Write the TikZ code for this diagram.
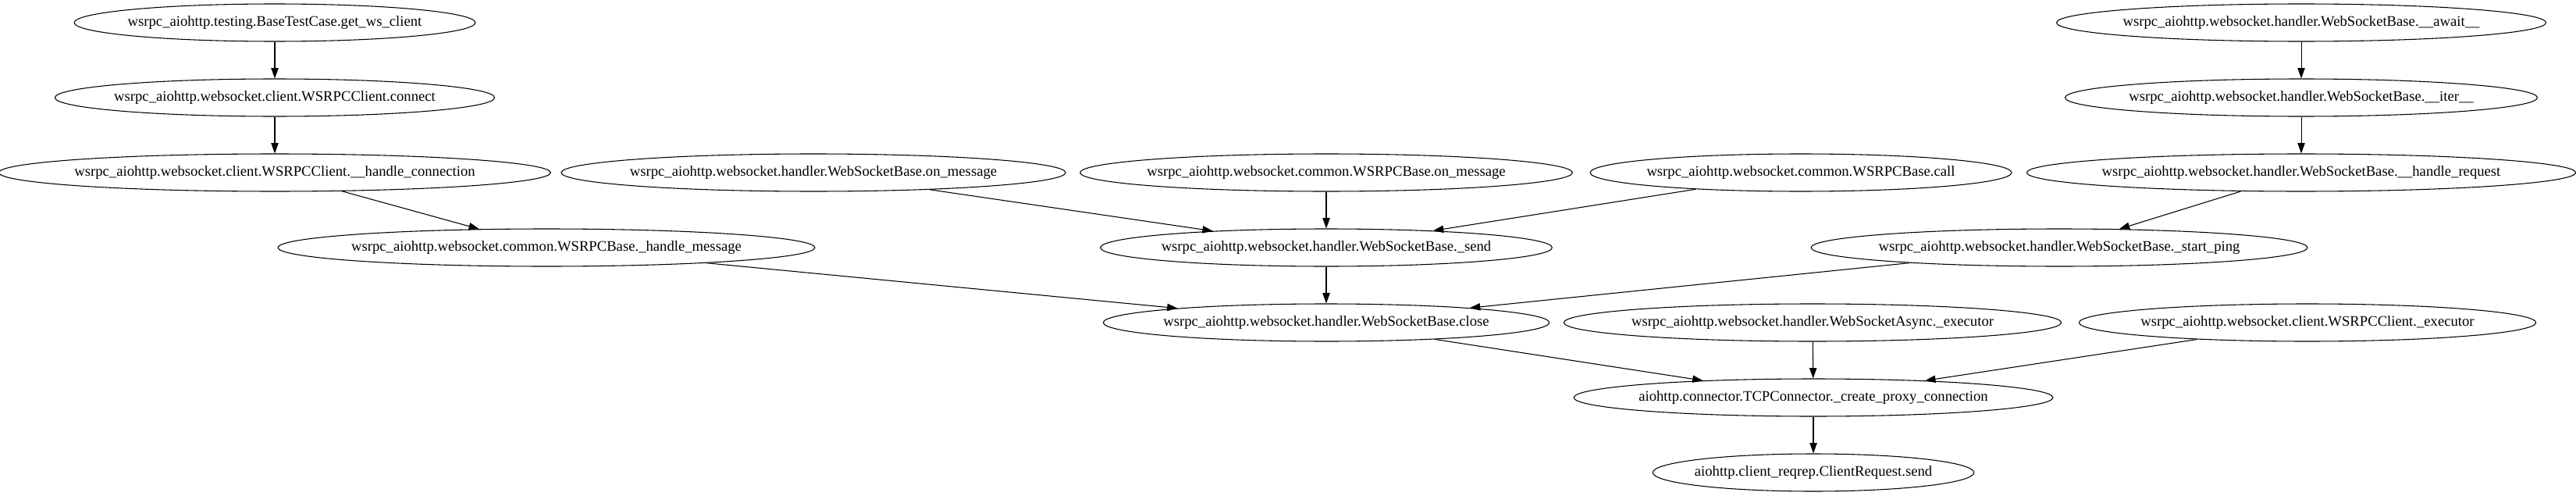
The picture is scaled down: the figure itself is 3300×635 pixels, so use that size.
\documentclass[tikz,border=0pt]{standalone}
\usepackage{fontspec}
\setmainfont{Liberation Serif}
\usetikzlibrary{arrows.meta, shapes.geometric}

\begin{document}
\begin{tikzpicture}[x=0.75pt, y=-0.75pt, font=\fontsize{14}{16}\selectfont,
	func/.style={draw, ellipse, line width=0.8pt, minimum height=36pt, inner xsep=-5pt, inner ysep=0pt},
	callarrow/.style={line width=0.8pt, -{Triangle[length=10pt, width=7pt]}}]

	\useasboundingbox (0,0) rectangle (3300,635);

	% left column
	\node[func] (getws) at (352,29) {wsrpc\_aiohttp.testing.BaseTestCase.get\_ws\_client};
	\node[func] (connect) at (352,125) {wsrpc\_aiohttp.websocket.client.WSRPCClient.connect};
	\node[func] (handleconn) at (352,221) {wsrpc\_aiohttp.websocket.client.WSRPCClient.\_\_handle\_connection};
	\node[func] (handlemsg) at (700,317) {wsrpc\_aiohttp.websocket.common.WSRPCBase.\_handle\_message};

	% middle
	\node[func] (hmessage) at (1042,221) {wsrpc\_aiohttp.websocket.handler.WebSocketBase.on\_message};
	\node[func] (cmessage) at (1699,221) {wsrpc\_aiohttp.websocket.common.WSRPCBase.on\_message};
	\node[func] (call) at (2307,221) {wsrpc\_aiohttp.websocket.common.WSRPCBase.call};
	\node[func] (send) at (1699,317) {wsrpc\_aiohttp.websocket.handler.WebSocketBase.\_send};
	\node[func] (close) at (1699,413) {wsrpc\_aiohttp.websocket.handler.WebSocketBase.close};

	% right column
	\node[func] (await) at (2948,29) {wsrpc\_aiohttp.websocket.handler.WebSocketBase.\_\_await\_\_};
	\node[func] (iter) at (2948,125) {wsrpc\_aiohttp.websocket.handler.WebSocketBase.\_\_iter\_\_};
	\node[func] (handlereq) at (2948,221) {wsrpc\_aiohttp.websocket.handler.WebSocketBase.\_\_handle\_request};
	\node[func] (ping) at (2638,317) {wsrpc\_aiohttp.websocket.handler.WebSocketBase.\_start\_ping};
	\node[func] (asyncexec) at (2322,413) {wsrpc\_aiohttp.websocket.handler.WebSocketAsync.\_executor};
	\node[func] (clientexec) at (2956,413) {wsrpc\_aiohttp.websocket.client.WSRPCClient.\_executor};

	% bottom
	\node[func] (proxy) at (2323,509) {aiohttp.connector.TCPConnector.\_create\_proxy\_connection};
	\node[func] (reqsend) at (2323,605) {aiohttp.client\_reqrep.ClientRequest.send};

	\draw[callarrow] (getws) -- (connect);
	\draw[callarrow] (connect) -- (handleconn);
	\draw[callarrow] (handleconn) -- (handlemsg);
	\draw[callarrow] (hmessage) -- (send);
	\draw[callarrow] (cmessage) -- (send);
	\draw[callarrow] (call) -- (send);
	\draw[callarrow] (handlemsg) -- (close);
	\draw[callarrow] (send) -- (close);
	\draw[callarrow] (ping) -- (close);
	\draw[callarrow] (await) -- (iter);
	\draw[callarrow] (iter) -- (handlereq);
	\draw[callarrow] (handlereq) -- (ping);
	\draw[callarrow] (close) -- (proxy);
	\draw[callarrow] (asyncexec) -- (proxy);
	\draw[callarrow] (clientexec) -- (proxy);
	\draw[callarrow] (proxy) -- (reqsend);

\end{tikzpicture}
\end{document}
